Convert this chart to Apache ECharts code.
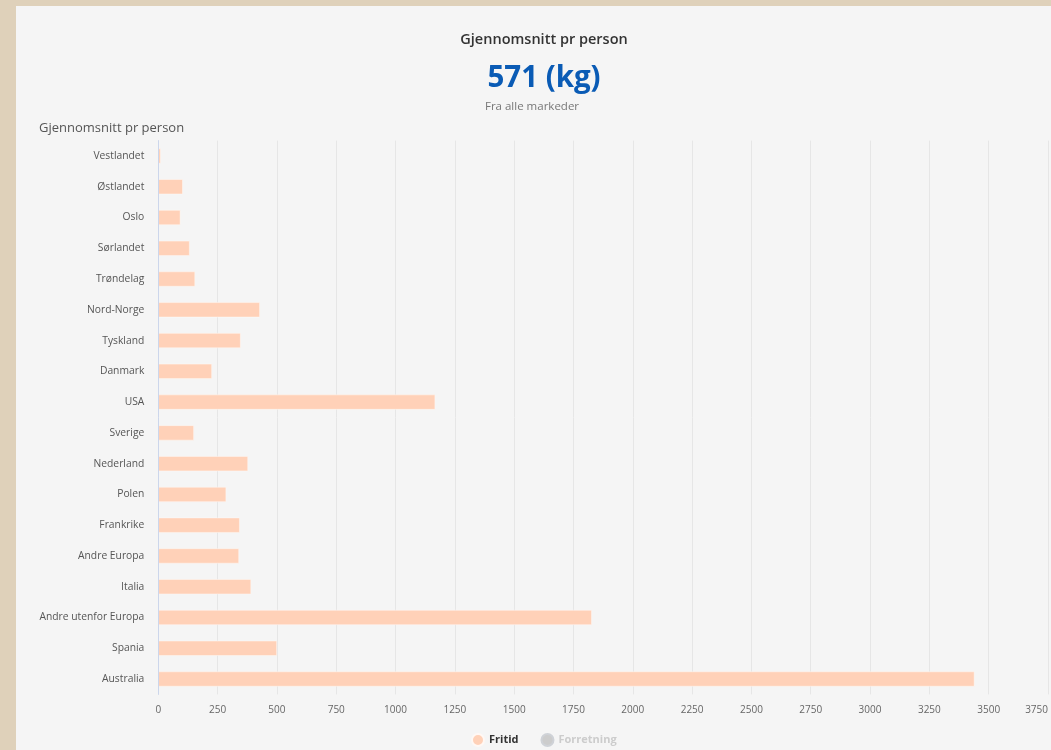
<!DOCTYPE html>
<html>
<head>
<meta charset="utf-8">
<script src="https://cdn.jsdelivr.net/npm/echarts@6/dist/echarts.min.js"></script>
<style>
  html, body { margin: 0; padding: 0; background: #dfd1ba; width: 1051px; height: 750px; overflow: hidden; }
  #chart { position: absolute; left: 16px; top: 6px; width: 1035px; height: 744px; background: #f5f5f5; }
</style>
</head>
<body>
<div id="chart"></div>
<script>
const categories = ['Vestlandet', 'Østlandet', 'Oslo', 'Sørlandet', 'Trøndelag', 'Nord-Norge', 'Tyskland', 'Danmark', 'USA', 'Sverige', 'Nederland', 'Polen', 'Frankrike', 'Andre Europa', 'Italia', 'Andre utenfor Europa', 'Spania', 'Australia'];
const fritid = [10, 103, 93, 132, 155, 428, 347, 226, 1167, 150, 378, 286, 343, 340, 391, 1827, 500, 3440];
const forretning = [0, 0, 0, 0, 0, 0, 0, 0, 0, 0, 0, 0, 0, 0, 0, 0, 0, 0];
const seriesNames = ['Fritid', 'Forretning'];
const headline = 'Gjennomsnitt pr person';
const bigValue = '571 (kg)';
const subText = 'Fra alle markeder';
const chartTitle = 'Gjennomsnitt pr person';

const font = '"Open Sans", "Noto Sans", sans-serif';
const chart = echarts.init(document.getElementById('chart'));
chart.setOption({
  backgroundColor: '#f5f5f5',
  animation: false,
  textStyle: { fontFamily: font },
  graphic: [
    { type: 'text', x: 528, y: 34, style: { text: headline, font: '600 14.5px ' + font, fill: '#333', align: 'center', verticalAlign: 'middle' } },
    { type: 'text', x: 528, y: 73, style: { text: bigValue, font: '700 29.5px ' + font, fill: '#0a5bb5', align: 'center', verticalAlign: 'middle' } },
    { type: 'text', x: 516, y: 101, style: { text: subText, font: '400 11.5px ' + font, fill: '#777', align: 'center', verticalAlign: 'middle' } },
    { type: 'text', x: 23, y: 122, style: { text: chartTitle, font: '400 13px ' + font, fill: '#555', align: 'left', verticalAlign: 'middle' } }
  ],
  legend: {
    data: seriesNames,
    left: 450,
    top: 722,
    icon: 'circle',
    itemWidth: 12,
    itemHeight: 12,
    itemGap: 22,
    textStyle: { fontFamily: font, fontSize: 11, fontWeight: 'bold', color: '#333' },
    inactiveColor: '#cccccc',
    selected: { 'Fritid': true, 'Forretning': false }
  },
  grid: { left: 142.3, right: 2.4, top: 134.6, bottom: 55.6, containLabel: false },
  xAxis: {
    type: 'value',
    min: 0,
    max: 3750,
    interval: 250,
    axisLine: { show: false },
    axisTick: { show: false },
    splitLine: { show: true, lineStyle: { color: '#e6e6e6', width: 1 } },
    axisLabel: { color: '#666', fontSize: 10, margin: 11, fontFamily: font, alignMaxLabel: 'right', formatter: function (v) { return String(v); } }
  },
  yAxis: {
    type: 'category',
    data: categories,
    inverse: true,
    z: 5,
    axisLine: { show: true, lineStyle: { color: '#ccd6eb', width: 1 } },
    axisTick: { show: false },
    splitLine: { show: false },
    axisLabel: { color: '#555', fontSize: 10.3, margin: 14, fontFamily: font }
  },
  series: [
    {
      name: 'Fritid', type: 'bar', data: fritid, barWidth: 15, z: 2,
      itemStyle: { color: '#ffd1b8', borderColor: '#fff8f4', borderWidth: 0.5 }
    },
    {
      name: 'Forretning', type: 'bar', data: forretning, barWidth: 15, z: 2,
      itemStyle: { color: '#c8c8c8', borderColor: '#ffffff', borderWidth: 0.5 }
    }
  ]
});
</script>
</body>
</html>
